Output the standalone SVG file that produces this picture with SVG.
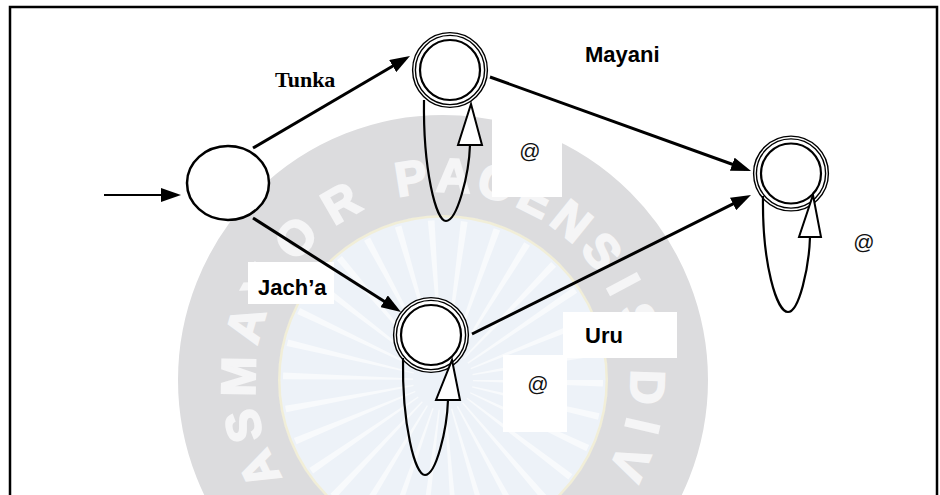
<svg xmlns="http://www.w3.org/2000/svg" width="940" height="495" viewBox="0 0 940 495">
  <defs>
    <marker id="arrow" markerUnits="userSpaceOnUse" viewBox="0 0 20 14" markerWidth="20" markerHeight="14" refX="14" refY="7" orient="auto">
      <path d="M0,0 L20,7 L0,14 Z" fill="#000"/>
    </marker>
    <style>
      .edge{stroke:#000;stroke-width:3;fill:none;marker-end:url(#arrow)}
      .start{stroke:#000;stroke-width:2;fill:none;marker-end:url(#arrow)}
      .loop{stroke:#000;stroke-width:2.2;fill:none}
      .loophead{fill:#fff;stroke:#000;stroke-width:2;stroke-linejoin:miter}
      .ring{fill:#fff;stroke:#000;stroke-width:4.2}
      .ringgap{fill:none;stroke:#fff;stroke-width:1.4}
      .inner{fill:none;stroke:#000;stroke-width:2.2}
      .lbl{font-family:"Liberation Sans",Arial,sans-serif;font-weight:bold;font-size:22px;fill:#000}
      .serif{font-family:"Liberation Serif","Times New Roman",serif;font-weight:bold;font-size:22px;fill:#000}
      .eps{font-family:"Liberation Sans",Arial,sans-serif;font-size:21px;fill:#111;text-anchor:middle}
      .wm{font-family:"Liberation Sans",Arial,sans-serif;font-weight:bold;font-size:48px;fill:#f5f5f6;stroke:#f5f5f6;stroke-width:2;text-anchor:middle}
      .pad{fill:#fff}
    </style>
  </defs>

  <rect x="0" y="0" width="940" height="495" fill="#fff"/>

  <!-- faint seal in the background -->
  <g id="seal">
    <circle cx="443" cy="380" r="165" fill="#edf2f8"/>
    <circle cx="443" cy="380" r="95" fill="none" stroke="#f8fafc" stroke-width="130" stroke-dasharray="4 15.9"/>
    <circle cx="443" cy="380" r="164" fill="none" stroke="#f1eed8" stroke-width="3"/>
    <circle cx="443" cy="380" r="215" fill="none" stroke="#dcdcde" stroke-width="100"/>
    <g class="wm">
      <text transform="translate(258.8 469.8) rotate(244)" x="0" y="17">A</text>
      <text transform="translate(243.2 426.1) rotate(257)" x="0" y="17">S</text>
      <text transform="translate(238.1 376.4) rotate(271)" x="0" y="17">M</text>
      <text transform="translate(245.3 324.5) rotate(286)" x="0" y="17">A</text>
      <text transform="translate(262.0 283.8) rotate(298)" x="0" y="17">Y</text>
      <text transform="translate(295.5 237.6) rotate(314)" x="0" y="17">O</text>
      <text transform="translate(340.5 202.5) rotate(330)" x="0" y="17">R</text>
      <text transform="translate(410.9 177.5) rotate(351)" x="0" y="17">P</text>
      <text transform="translate(453.7 175.3) rotate(3)" x="0" y="17">A</text>
      <text transform="translate(496.1 182.0) rotate(15)" x="0" y="17">C</text>
      <text transform="translate(536.1 197.3) rotate(27)" x="0" y="17">E</text>
      <text transform="translate(572.0 220.7) rotate(39)" x="0" y="17">N</text>
      <text transform="translate(602.3 251.0) rotate(51)" x="0" y="17">S</text>
      <text transform="translate(624.0 283.8) rotate(62)" x="0" y="17">I</text>
      <text transform="translate(639.0 320.1) rotate(73)" x="0" y="17">S</text>
      <text transform="translate(647.8 387.2) rotate(92)" x="0" y="17">D</text>
      <text transform="translate(642.7 426.1) rotate(103)" x="0" y="17">I</text>
      <text transform="translate(630.3 463.4) rotate(114)" x="0" y="17">V</text>
    </g>
  </g>

  <!-- white backing boxes under the labels -->
  <g id="label-pads">
    <rect class="pad" x="492" y="112" width="70" height="85"/>
    <rect class="pad" x="563" y="312" width="114" height="46"/>
    <rect class="pad" x="503" y="355" width="64" height="77"/>
    <rect class="pad" x="248" y="262" width="86" height="42"/>
  </g>

  <!-- frame -->
  <rect x="10" y="7" width="927" height="500" fill="none" stroke="#000" stroke-width="2.5"/>

  <!-- transitions -->
  <g id="connectors">
    <line class="start" x1="104" y1="195" x2="175" y2="195"/>
    <line class="edge" x1="253" y1="148" x2="404.8" y2="59.0"/>
    <line class="edge" x1="253" y1="218" x2="395.9" y2="308.8"/>
    <line class="edge" x1="490" y1="77" x2="745.4" y2="169.0"/>
    <line class="edge" x1="472" y1="334" x2="745.6" y2="197.7"/>
  </g>

  <!-- states -->
  <g id="q0">
    <ellipse cx="228" cy="183" rx="41" ry="37" fill="#fff" stroke="#000" stroke-width="2.5"/>
  </g>

  <g id="q1">
    <circle class="ring" cx="450" cy="70" r="36"/>
    <circle class="ringgap" cx="450" cy="70" r="36"/>
    <circle class="inner" cx="450" cy="70" r="30"/>
    <path class="loop" d="M424,100 C423,170 436,221 446,221 C457,221 469,175 470,145"/>
    <polygon class="loophead" points="458,145 482,145 471,104"/>
  </g>

  <g id="q2">
    <circle class="ring" cx="431" cy="335" r="36"/>
    <circle class="ringgap" cx="431" cy="335" r="36"/>
    <circle class="inner" cx="431" cy="335" r="30"/>
    <path class="loop" d="M403,358 C402,425 415,475 425,475 C436,475 447,430 448,400"/>
    <polygon class="loophead" points="436,400 460,400 452,360"/>
  </g>

  <g id="q3">
    <circle class="ring" cx="791" cy="173.5" r="36"/>
    <circle class="ringgap" cx="791" cy="173.5" r="36"/>
    <circle class="inner" cx="791" cy="173.5" r="30"/>
    <path class="loop" d="M763,196 C762,265 777,312 788,312 C799,312 809,268 810,237"/>
    <polygon class="loophead" points="799,237 821,237 813,195"/>
  </g>

  <!-- labels -->
  <g id="labels">
    <text class="serif" x="275" y="87">Tunka</text>
    <text class="lbl" x="585" y="62">Mayani</text>
    <text class="lbl" x="258" y="295">Jach’a</text>
    <text class="lbl" x="585" y="343">Uru</text>
    <text class="eps" x="530" y="158">@</text>
    <text class="eps" x="864" y="249">@</text>
    <text class="eps" x="538" y="391">@</text>
  </g>
</svg>
